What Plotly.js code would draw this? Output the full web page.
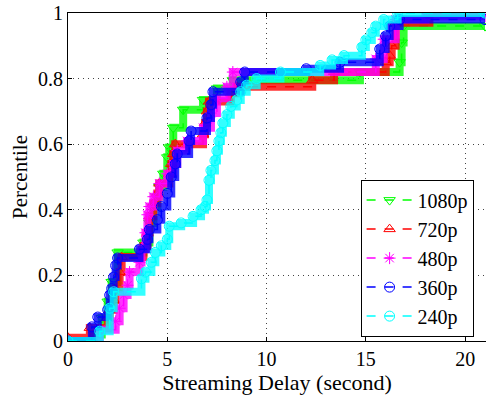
<!DOCTYPE html>
<html>
<head>
<meta charset="utf-8">
<script src="https://cdn.plot.ly/plotly-3.0.1.min.js"></script>
<style>html,body{margin:0;padding:0;background:#fff;}#chart{width:486px;height:396px;}</style>
</head>
<body>
<div id="chart"></div>
<script>
// Series names
const seriesNames = ["1080p", "720p", "480p", "360p", "240p"];

// 1080p CDF step points (delay in seconds, percentile)
const delay1080 = [0, 1.3, 1.7, 2.0, 2.2, 2.5, 3.8, 4.1, 4.3, 4.5, 4.6, 4.8, 5.0, 5.1, 5.3, 5.8, 6.8, 7.5, 8.3, 14.7, 16.7, 16.8, 16.9, 21];
const pct1080   = [0, 0.02, 0.07, 0.12, 0.18, 0.27, 0.30, 0.36, 0.41, 0.44, 0.47, 0.51, 0.56, 0.59, 0.65, 0.705, 0.735, 0.77, 0.795, 0.82, 0.85, 0.91, 0.96, 0.96];

// 720p
const delay720 = [0, 1.1, 2.0, 2.1, 2.3, 2.4, 2.6, 2.7, 3.8, 4.0, 4.1, 4.3, 4.5, 4.6, 5.1, 5.2, 5.3, 5.4, 6.8, 6.9, 7.0, 7.1, 8.2, 8.5, 12.3, 13.4, 16.0, 16.2, 16.3, 16.5, 18.2, 21];
const pct720   = [0.01, 0.04, 0.07, 0.095, 0.125, 0.16, 0.21, 0.256, 0.29, 0.33, 0.38, 0.42, 0.45, 0.48, 0.51, 0.54, 0.57, 0.60, 0.63, 0.665, 0.70, 0.73, 0.755, 0.775, 0.795, 0.82, 0.85, 0.87, 0.90, 0.97, 1.0, 1.0];

// 480p
const delay480 = [0, 1.6, 2.4, 2.6, 2.8, 3.0, 3.1, 3.6, 3.7, 3.9, 4.0, 4.1, 4.3, 4.6, 5.0, 5.3, 5.5, 6.0, 6.8, 7.2, 7.5, 8.0, 8.3, 15.5, 15.9, 16.5, 18.0, 21];
const pct480   = [0, 0.034, 0.06, 0.10, 0.14, 0.17, 0.21, 0.24, 0.28, 0.33, 0.385, 0.41, 0.44, 0.48, 0.51, 0.54, 0.58, 0.61, 0.65, 0.695, 0.74, 0.775, 0.82, 0.86, 0.92, 0.98, 0.99, 0.99];

// 360p
const delay360 = [0, 1.2, 1.5, 2.0, 2.1, 2.2, 2.3, 2.4, 2.5, 3.6, 4.0, 4.1, 4.5, 4.7, 5.0, 5.2, 5.4, 5.5, 6.1, 6.2, 7.0, 7.2, 7.3, 8.7, 8.9, 12.0, 13.7, 15.7, 16.0, 16.2, 16.7, 21];
const pct360   = [0, 0.043, 0.073, 0.095, 0.14, 0.16, 0.195, 0.23, 0.253, 0.28, 0.31, 0.34, 0.37, 0.41, 0.45, 0.50, 0.54, 0.57, 0.61, 0.64, 0.68, 0.72, 0.76, 0.79, 0.82, 0.83, 0.85, 0.89, 0.93, 0.96, 0.98, 0.98];

// 240p
const delay240 = [0, 1.6, 2.1, 2.3, 3.7, 3.9, 4.2, 4.4, 4.7, 5.0, 5.1, 5.7, 6.3, 6.7, 6.9, 7.0, 7.1, 7.2, 7.4, 7.5, 7.6, 7.7, 7.8, 8.0, 8.2, 8.5, 8.7, 9.0, 9.5, 10.7, 12.7, 13.3, 13.9, 14.8, 15.0, 15.3, 15.5, 15.9, 16.6, 21];
const pct240   = [0, 0.03, 0.10, 0.15, 0.19, 0.21, 0.24, 0.27, 0.29, 0.31, 0.35, 0.36, 0.38, 0.40, 0.41, 0.43, 0.49, 0.52, 0.55, 0.58, 0.61, 0.635, 0.665, 0.69, 0.715, 0.735, 0.76, 0.78, 0.80, 0.82, 0.84, 0.857, 0.87, 0.896, 0.918, 0.94, 0.96, 0.98, 1.0, 1.0];

// Axis ticks
const xTicks = [0, 5, 10, 15, 20];
const xTickLabels = ["0", "5", "10", "15", "20"];
const yTicks = [0, 0.2, 0.4, 0.6, 0.8, 1];
const yTickLabels = ["0", "0.2", "0.4", "0.6", "0.8", "1"];

const xs = [delay1080, delay720, delay480, delay360, delay240];
const ys = [pct1080, pct720, pct480, pct360, pct240];
const colors = ["#00ff00", "#ff0000", "#ff00ff", "#0000ff", "#00ffff"];
const symbols = ["triangle-down-open", "triangle-up-open", "asterisk-open", "circle-open", "circle-open"];

const traces = [];
for (let i = 0; i < 5; i++) {
  traces.push({
    x: xs[i], y: ys[i], type: "scatter", mode: "lines",
    line: {shape: "hv", color: colors[i], width: 8},
    opacity: 0.8, showlegend: false, hoverinfo: "skip"
  });
  traces.push({
    x: xs[i], y: ys[i], type: "scatter", mode: "lines+markers",
    name: seriesNames[i],
    line: {shape: "hv", color: colors[i], width: 1.5, dash: "dash"},
    marker: {symbol: symbols[i], size: 10, color: colors[i], line: {width: 1, color: colors[i]}}
  });
}

const fam = "Liberation Serif";
const tickFont = {family: fam, size: 20, color: "#000"};

const layout = {
  width: 486, height: 396,
  margin: {l: 68, r: 0, t: 13, b: 55},
  paper_bgcolor: "#fff", plot_bgcolor: "#fff",
  font: tickFont,
  showlegend: true,
  xaxis: {
    range: [0, 21.05],
    tickvals: xTicks, ticktext: xTickLabels,
    ticks: "inside", ticklen: 4, tickcolor: "#000",
    showline: true, linecolor: "#000", linewidth: 1, mirror: "ticks",
    showgrid: true, gridcolor: "#444", griddash: "1px,4px", gridwidth: 1,
    zeroline: false,
    tickfont: tickFont,
    title: {text: "Streaming Delay (second)", font: {family: fam, size: 22, color: "#000"}, standoff: 0}
  },
  yaxis: {
    range: [0, 1],
    tickvals: yTicks, ticktext: yTickLabels,
    ticks: "inside", ticklen: 4, tickcolor: "#000",
    showline: true, linecolor: "#000", linewidth: 1, mirror: false,
    showgrid: true, gridcolor: "#444", griddash: "1px,4px", gridwidth: 1,
    zeroline: false,
    tickfont: tickFont,
    title: {text: "Percentile", font: {family: fam, size: 21, color: "#000"}, standoff: 4}
  },
  legend: {
    x: 0.700, y: 0.492, xanchor: "left", yanchor: "top",
    bgcolor: "#fff", bordercolor: "#000", borderwidth: 1,
    font: {family: fam, size: 20, color: "#000"}, tracegroupgap: 0,
    itemwidth: 46, entrywidth: 118
  }
};

Plotly.newPlot("chart", traces, layout, {staticPlot: true, displayModeBar: false});
</script>
</body>
</html>
